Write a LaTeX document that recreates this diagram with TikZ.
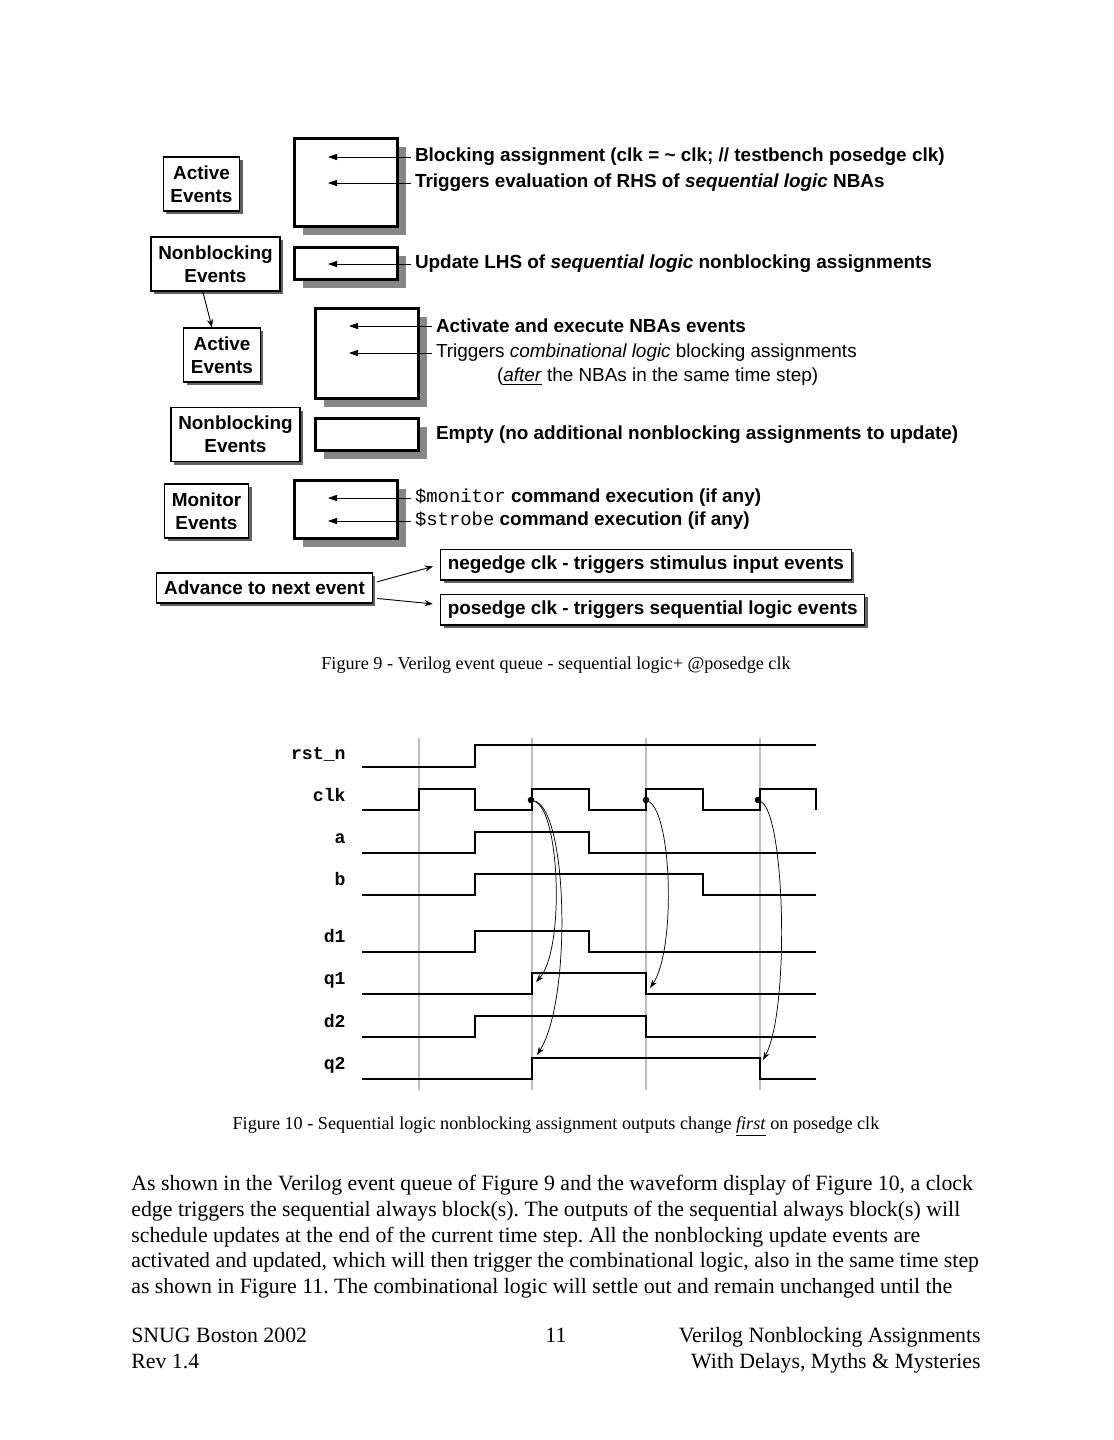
\documentclass[tikz,border=0pt]{standalone}
\usepackage{fontspec}
\setmainfont{Liberation Serif}
\setsansfont{Liberation Sans}
\setmonofont{Liberation Mono}
\usepackage{tikz}
\usetikzlibrary{positioning, arrows.meta, shadows}
\frenchspacing

\newcommand{\qfont}{\fontsize{10.4}{12.6}\selectfont\sffamily}

\begin{document}
\begin{tikzpicture}[
      x=0.55pt, y=-0.55pt,
      lbl/.style={draw, fill=white, line width=0.6pt, align=center, inner xsep=4pt, inner ysep=0pt,
        minimum height=29.7pt, font=\qfont\bfseries,
        drop shadow={shadow xshift=1.7pt, shadow yshift=-1.7pt, fill=black!62, opacity=1}},
      queue/.style={draw, fill=white, line width=1.5pt, minimum width=56.8pt, inner sep=0pt,
        drop shadow={shadow xshift=4.8pt, shadow yshift=-4.8pt, fill=gray!95, opacity=1}},
      txt/.style={anchor=west, inner xsep=2pt, inner ysep=1pt, font=\qfont\bfseries},
      txtr/.style={txt, font=\qfont},
      qarr/.style={-{Triangle[length=5pt,width=3.4pt]}, line width=0.5pt},
      narr/.style={-{Stealth[length=4.5pt,width=3.4pt]}, line width=0.5pt},
      wave/.style={line width=1.1pt},
      gline/.style={black!25, line width=0.6pt},
      sig/.style={anchor=base east, inner sep=0pt, font=\fontsize{10}{12}\selectfont\ttfamily\bfseries},
      edot/.style={circle, fill, inner sep=0pt, minimum size=3.6pt},
      carr/.style={-{Stealth[length=4.5pt,width=3pt]}, line width=0.4pt},
      capt/.style={anchor=base, inner sep=0pt, font=\fontsize{10}{12}\selectfont},
      body/.style={anchor=base west, inner sep=0pt, font=\fontsize{12}{14}\selectfont}
    ]
    \useasboundingbox (0,0) rectangle (1113,1440);

    % Figure 9 - event queue
    \node[lbl] (act1) at (201.5,184) {Active\\Events};
    \node[lbl] (nb1) at (215.5,264) {Nonblocking\\Events};
    \node[lbl] (act2) at (222,355) {Active\\Events};
    \node[lbl] (nb2) at (235.5,434.5) {Nonblocking\\Events};
    \node[lbl] (mon) at (206.5,511) {Monitor\\Events};

    \node[queue, minimum height=48.5pt] (qa1) at (346,182.5) {};
    \node[queue, minimum height=17.75pt] (qn1) at (346,263.5) {};
    \node[queue, minimum height=49.6pt] (qa2) at (367,353.5) {};
    \node[queue, minimum height=17.75pt] (qn2) at (367,434.5) {};
    \node[queue, minimum height=32pt] (qm) at (346,509.5) {};

    \node[txt] (blk) at (411,157) {Blocking assignment (clk = \textasciitilde{} clk; // testbench posedge clk)};
    \node[txt] (rhs) at (411,183) {Triggers evaluation of RHS of \textit{sequential logic} NBAs};
    \node[txt] (upd) at (411,264) {Update LHS of \textit{sequential logic} nonblocking assignments};
    \node[txt] (act) at (432,326) {Activate and execute NBAs events};
    \node[txtr] (comb) at (432,353) {Triggers \textit{combinational logic} blocking assignments};
    \node[txtr] (aft) at (493,377) {(\underline{\textit{after}} the NBAs in the same time step)};
    \node[txt] (empt) at (432,435) {Empty (no additional nonblocking assignments to update)};
    \node[txt] (monx) at (411,498) {{\ttfamily\mdseries \$monitor} command execution (if any)};
    \node[txt] (strx) at (411,521) {{\ttfamily\mdseries \$strobe} command execution (if any)};

    \coordinate (t1) at (328,157);
    \coordinate (t2) at (328,183);
    \coordinate (t3) at (328,264);
    \coordinate (t4) at (349,326);
    \coordinate (t5) at (349,353);
    \coordinate (t6) at (328,498);
    \coordinate (t7) at (328,521);

    \draw[qarr] (blk.west) -- (t1);
    \draw[qarr] (rhs.west) -- (t2);
    \draw[qarr] (upd.west) -- (t3);
    \draw[qarr] (act.west) -- (t4);
    \draw[qarr] (comb.west) -- (t5);
    \draw[qarr] (monx.west) -- (t6);
    \draw[qarr] (strx.west) -- (t7);

    \draw[narr] ([xshift=-7pt]nb1.south) -- ([xshift=-5.5pt]act2.north);

    \node[lbl, minimum height=16.5pt] (adv) at (264.5,588) {Advance to next event};
    \node[lbl, anchor=west, minimum height=17pt] (neg) at (440,564.5) {negedge clk - triggers stimulus input events};
    \node[lbl, anchor=west, minimum height=17pt] (pos) at (440,609.5) {posedge clk - triggers sequential logic events};

    \draw[narr, shorten <=2.5pt, shorten >=4pt] ([yshift=2.7pt]adv.east) -- (neg.west);
    \draw[narr, shorten <=2.5pt, shorten >=4pt] ([yshift=-5.5pt]adv.east) -- ([yshift=2.7pt]pos.west);

    \node[capt] (cap9) at (556,669) {Figure 9 - Verilog event queue - sequential logic+ @posedge clk};

    % Figure 10 - waveforms
    \foreach \gx in {419,532,646,760}
      \draw[gline] (\gx,738) -- (\gx,1090);

    \node[sig] (lrst) at (346,759) {rst\_n};
    \node[sig] (lclk) at (346,801) {clk};
    \node[sig] (la) at (346,843) {a};
    \node[sig] (lb) at (346,885) {b};
    \node[sig] (ld1) at (346,942) {d1};
    \node[sig] (lq1) at (346,984) {q1};
    \node[sig] (ld2) at (346,1027) {d2};
    \node[sig] (lq2) at (346,1069) {q2};

    \draw[wave] (362,767) -- (475,767) -- (475,745) -- (816,745);
    \draw[wave] (362,810) -- (419,810) -- (419,789) -- (475,789) -- (475,810) -- (532,810) -- (532,789)
      -- (589,789) -- (589,810) -- (646,810) -- (646,789) -- (703,789) -- (703,810) -- (760,810)
      -- (760,789) -- (816,789) -- (816,810);
    \draw[wave] (362,853) -- (475,853) -- (475,832) -- (589,832) -- (589,853) -- (816,853);
    \draw[wave] (362,895) -- (475,895) -- (475,874) -- (703,874) -- (703,895) -- (816,895);
    \draw[wave] (362,952) -- (475,952) -- (475,931) -- (589,931) -- (589,952) -- (816,952);
    \draw[wave] (362,994) -- (532,994) -- (532,973) -- (646,973) -- (646,994) -- (816,994);
    \draw[wave] (362,1037) -- (475,1037) -- (475,1016) -- (646,1016) -- (646,1037) -- (816,1037);
    \draw[wave] (362,1079) -- (532,1079) -- (532,1058) -- (760,1058) -- (760,1079) -- (816,1079);

    \node[edot] (e1) at (531,800) {};
    \node[edot] (e2) at (646,800) {};
    \node[edot] (e3) at (758,800) {};
    \coordinate (q1r) at (536,982);
    \coordinate (q2r) at (537,1055);
    \coordinate (q1f) at (650,988);
    \coordinate (q2f) at (763,1060);

    \draw[carr] (e1) .. controls (560,810) and (565,950) .. (q1r);
    \draw[carr] (e1) .. controls (568,810) and (572,1000) .. (q2r);
    \draw[carr] (e2) .. controls (672,815) and (676,950) .. (q1f);
    \draw[carr] (e3) .. controls (785,815) and (790,1010) .. (q2f);

    \node[capt] (cap10) at (556,1129) {Figure 10 - Sequential logic nonblocking assignment outputs change \underline{\textit{first}} on posedge clk};

    % body text and footer
    \node[body] (l1) at (131,1190) {As shown in the Verilog event queue of Figure 9 and the waveform display of Figure 10, a clock};
    \node[body] (l2) at (131,1216) {edge triggers the sequential always block(s). The outputs of the sequential always block(s) will};
    \node[body] (l3) at (131,1242) {schedule updates at the end of the current time step. All the nonblocking update events are};
    \node[body] (l4) at (131,1267) {activated and updated, which will then trigger the combinational logic, also in the same time step};
    \node[body] (l5) at (131,1293) {as shown in Figure 11. The combinational logic will settle out and remain unchanged until the};

    \node[body] (f1) at (131,1342) {SNUG Boston 2002};
    \node[body] (f2) at (131,1368) {Rev 1.4};
    \node[body, anchor=base] (pg) at (556,1342) {11};
    \node[body, anchor=base east] (f3) at (981,1342) {Verilog Nonblocking Assignments};
    \node[body, anchor=base east] (f4) at (981,1368) {With Delays, Myths \& Mysteries};
  \end{tikzpicture}
\end{document}
